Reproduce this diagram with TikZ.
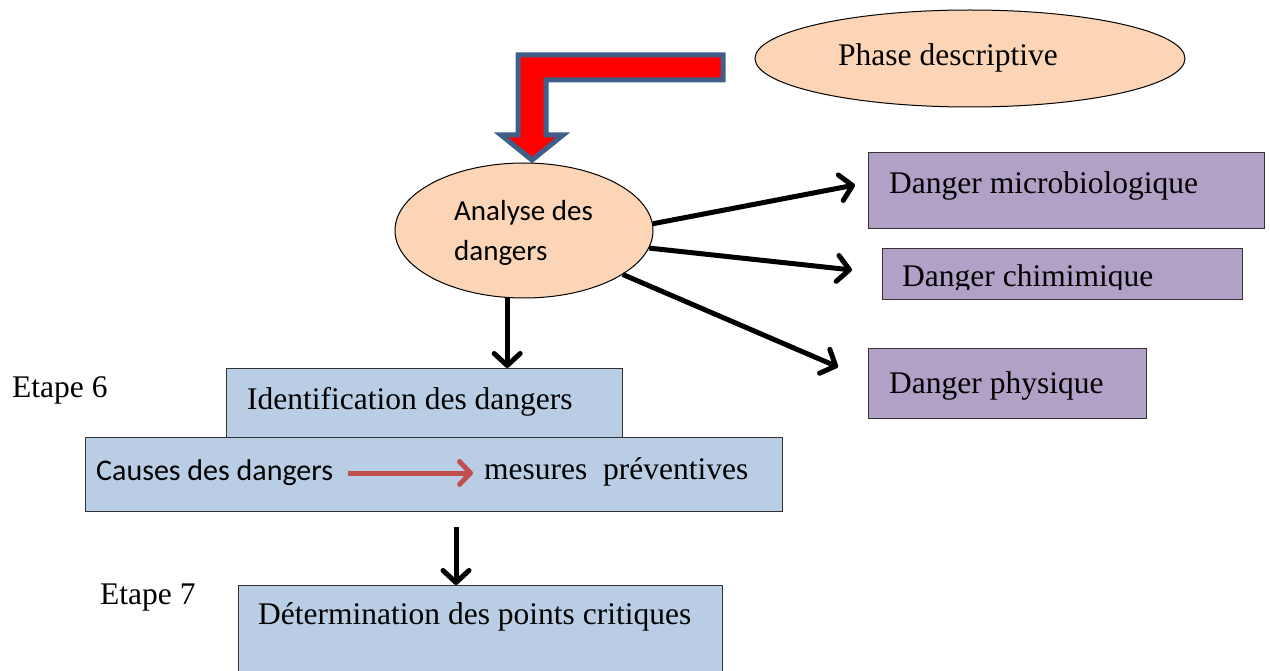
\documentclass[tikz,border=0pt]{standalone}
\usepackage{fontspec}
\setmainfont{Liberation Serif}
\newfontfamily\calibrifont{Carlito}
\usetikzlibrary{arrows.meta,shapes.geometric}
\definecolor{peachc}{HTML}{FBD5B5}
\definecolor{bluec}{HTML}{B9CDE5}
\definecolor{purpc}{HTML}{B2A1C7}
\definecolor{arrred}{HTML}{C0504D}
\definecolor{arrborder}{HTML}{3F5F8A}
\definecolor{boxline}{HTML}{333333}
\begin{document}
\begin{tikzpicture}[x=1pt,y=-1pt,
  peach/.style={ellipse, draw=black, line width=1pt, fill=peachc, inner sep=0pt},
  bluebox/.style={rectangle, draw=boxline, line width=1.2pt, fill=bluec, anchor=north west, inner sep=0pt},
  purpbox/.style={rectangle, draw=boxline, line width=1.2pt, fill=purpc, anchor=north west, inner sep=0pt},
  txt/.style={font=\fontsize{31.5}{36}\selectfont, anchor=base west, inner sep=0pt},
  sanstxt/.style={font=\calibrifont\fontsize{29}{36}\selectfont, anchor=base west, inner sep=0pt},
  conn/.style={line width=5pt, draw=black, -{Straight Barb[length=12pt,width=26pt,round]}},
  redconn/.style={line width=5pt, draw=arrred, -{Straight Barb[length=11pt,width=23pt,round]}}
]
\useasboundingbox (0,0) rectangle (1270,671);
\clip (0,0) rectangle (1270,671);

% big red L arrow
\draw[fill=red, draw=arrborder, line width=5pt, line join=miter]
  (518,55) -- (723,55) -- (723,80) -- (546,80) -- (546,135) -- (563,135)
  -- (532,160) -- (501,135) -- (518,135) -- cycle;

% ellipses
\node[peach, minimum width=430pt, minimum height=97pt] (phase) at (970,58.5) {};
\node[txt] (phaset) at (838,66) {Phase descriptive};

\node[peach, minimum width=258pt, minimum height=135pt] (ana) at (524,230.5) {};
\node[sanstxt] (anat1) at (454,221) {Analyse des};
\node[sanstxt] (anat2) at (454,261) {dangers};

% purple boxes
\node[purpbox, minimum width=396pt, minimum height=76pt] (micro) at (868,152) {};
\node[txt] (microt) at (889,194) {Danger microbiologique};

\node[purpbox, minimum width=360pt, minimum height=51pt] (chim) at (882,248) {};
\begin{scope}
  \clip (882,248) rectangle (1242,290);
  \node[txt] (chimt) at (902,287) {Danger chimimique};
\end{scope}

\node[purpbox, minimum width=278pt, minimum height=70pt] (phys) at (868,348) {};
\node[txt] (physt) at (889,393) {Danger physique};

% blue boxes
\node[bluebox, minimum width=396pt, minimum height=69pt] (ident) at (226,368) {};
\node[txt] (identt) at (247,409) {Identification des dangers};

\node[bluebox, minimum width=697pt, minimum height=74pt] (causes) at (85,437) {};
\node[sanstxt, font=\calibrifont\fontsize{30}{36}\selectfont] (causest) at (96,480) {Causes des dangers};
\node[txt] (mesurest) at (484,479) {mesures\ \ préventives};

\node[bluebox, minimum width=484pt, minimum height=100pt] (det) at (238,585) {};
\node[txt] (dett) at (258,624) {Détermination des points critiques};

% step labels
\node[txt] (etape6) at (12,397) {Etape 6};
\node[txt] (etape7) at (100,604) {Etape 7};

% connectors
\coordinate (tmicro) at (855,185);
\coordinate (tchim) at (852,270);
\coordinate (tphys) at (838,367);
\draw[conn] (ana.3) -- (tmicro);
\draw[conn] (ana.-8) -- (tchim);
\draw[conn] (ana.-24) -- (tphys);
\draw[conn] (ana.-104) -- (ana.-104 |- ident.north);

\coordinate (a2) at (456,527);
\draw[conn] (a2) -- (a2 |- det.north);

\draw[redconn] ([shift={(15,-7)}]causest.base east) -- ([shift={(-11,-6)}]mesurest.base west);
\end{tikzpicture}
\end{document}
